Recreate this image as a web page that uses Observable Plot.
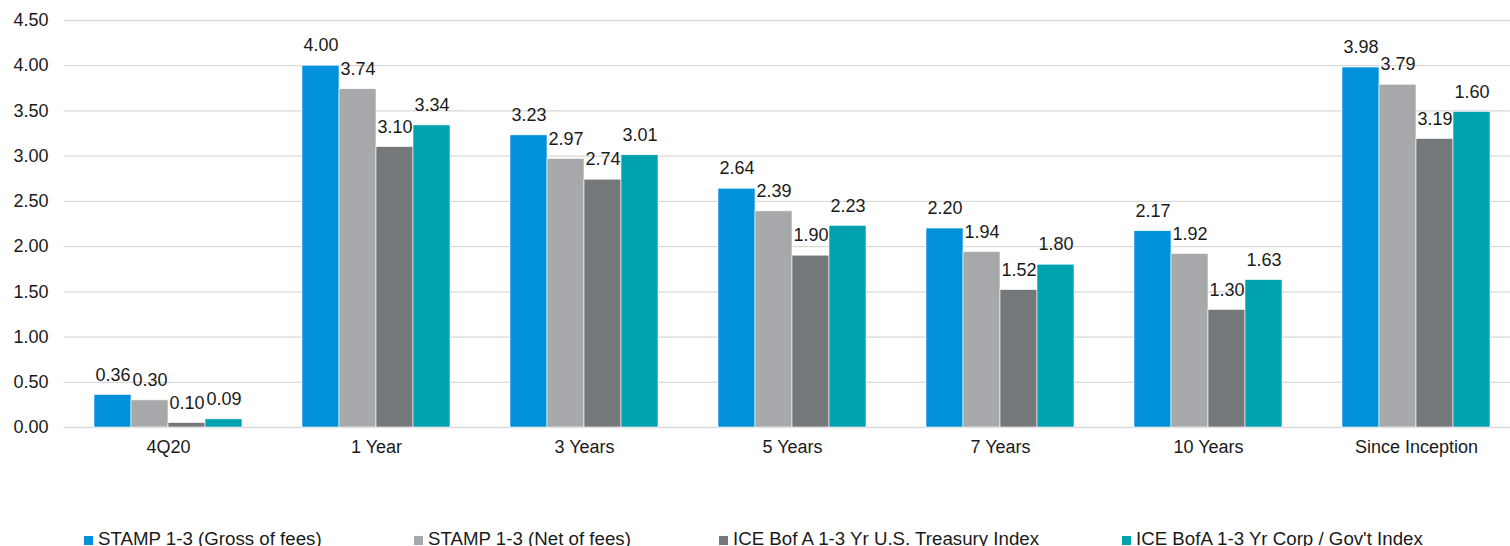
<!DOCTYPE html>
<html><head>
<meta charset="utf-8">
<script src="https://cdn.jsdelivr.net/npm/d3@7"></script>
<script src="https://cdn.jsdelivr.net/npm/@observablehq/plot@0.6"></script>
<style>
body{margin:0;background:#fff;overflow:hidden;font-family:"Liberation Sans",Arial,sans-serif;color:#1a1a1a;}
#chart svg{display:block;max-width:none !important;}
#legend{position:relative;height:36px;width:1510px;}
.item{position:absolute;top:19px;line-height:20px;font-size:18.7px;white-space:nowrap;}
.sw{display:inline-block;width:9px;height:9px;margin-right:5px;vertical-align:0px;}
</style>
</head><body>
<div id="chart"></div>
<div id="legend"></div>
<script>
const categories = ["4Q20","1 Year","3 Years","5 Years","7 Years","10 Years","Since Inception"];
const seriesNames = ["STAMP 1-3 (Gross of fees)","STAMP 1-3 (Net of fees)","ICE Bof A 1-3 Yr U.S. Treasury Index","ICE BofA 1-3 Yr Corp / Gov't Index"];
const colors = ["#0091DA","#A7A8AA","#75787B","#00A3AD"];
// bar heights as drawn
const gross    = [0.36, 4.00, 3.23, 2.64, 2.20, 2.17, 3.98];
const net      = [0.30, 3.74, 2.97, 2.39, 1.94, 1.92, 3.79];
const treasury = [0.05, 3.10, 2.74, 1.90, 1.52, 1.30, 3.19];
const corpGov  = [0.09, 3.34, 3.01, 2.23, 1.80, 1.63, 3.49];
// data labels as printed
const grossLabels    = ["0.36","4.00","3.23","2.64","2.20","2.17","3.98"];
const netLabels      = ["0.30","3.74","2.97","2.39","1.94","1.92","3.79"];
const treasuryLabels = ["0.10","3.10","2.74","1.90","1.52","1.30","3.19"];
const corpGovLabels  = ["0.09","3.34","3.01","2.23","1.80","1.63","1.60"];
const yTicks = [0,0.5,1,1.5,2,2.5,3,3.5,4,4.5];

const seriesValues = [gross, net, treasury, corpGov];
const seriesLabels = [grossLabels, netLabels, treasuryLabels, corpGovLabels];
const rows = [];
categories.forEach((c, i) => {
  seriesNames.forEach((s, j) => {
    rows.push({category: c, series: s, value: seriesValues[j][i], label: seriesLabels[j][i]});
  });
});

const font = "'Liberation Sans', Arial, sans-serif";
const chart = Plot.plot({
  width: 1521,
  height: 510,
  marginTop: 20,
  marginBottom: 83,
  marginLeft: 63,
  marginRight: 0,
  style: {fontFamily: font, fontSize: "18px", color: "#1a1a1a", background: "#fff", overflow: "visible"},
  fx: {domain: categories, padding: 0, label: null, axis: "bottom", tickSize: 0, tickPadding: 13},
  x: {domain: seriesNames, axis: null, paddingInner: 0, paddingOuter: 0.74},
  y: {domain: [0, 4.5], ticks: yTicks, tickFormat: d3.format(".2f"), tickSize: 0, tickPadding: 16, label: null},
  color: {domain: seriesNames, range: colors},
  marks: [
    Plot.ruleY(yTicks, {stroke: "#d9d9d9", strokeWidth: 1.3}),
    Plot.barY(rows, {fx: "category", x: "series", y: "value", fill: "series", stroke: "#fff", strokeWidth: 0.6}),
    Plot.text(rows, {fx: "category", x: "series", y: "value", text: "label", dy: -20, fill: "#1a1a1a", fontSize: 18, fontFamily: font})
  ]
});
chart.style.maxWidth = "none";
document.getElementById("chart").appendChild(chart);

const legendLefts = [84, 414, 719, 1122];
const legend = document.getElementById("legend");
seriesNames.forEach((s, i) => {
  const d = document.createElement("div");
  d.className = "item";
  d.style.left = legendLefts[i] + "px";
  d.innerHTML = `<span class="sw" style="background:${colors[i]}"></span>${s}`;
  legend.appendChild(d);
});
</script>
</body></html>
